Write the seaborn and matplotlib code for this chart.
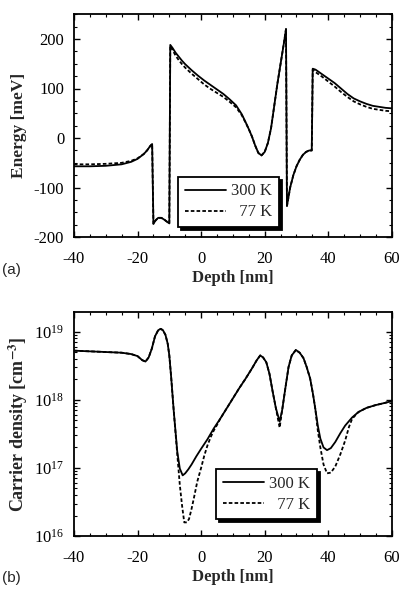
import numpy as np
import pandas as pd
import seaborn as sns
import matplotlib.pyplot as plt
from matplotlib.ticker import MultipleLocator, LogLocator, NullFormatter

# (a) band energy
x_e300 = [-40, -35, -30, -25, -22, -20, -18, -17, -16, -15.4, -15.0, -14.3, -13.5, -12.5, -11.5,
          -10.5, -10.0, -9.7, -9, -8, -7, -6, -5, -3, -1, 1, 3, 5, 7, 9, 11, 12.8, 14, 15, 16,
          17, 18, 19, 20, 21, 22, 23, 24, 25, 26, 26.7, 27.0, 28, 29, 30, 31, 32, 33, 34, 34.8,
          35.1, 36, 38, 40, 42, 44, 46, 48, 50, 52, 54, 56, 58, 60]
e300 = [-57, -57, -56, -53, -48, -42, -32, -25, -16, -12, -173, -166, -161, -161, -165,
        -170, -172, 188, 182, 172, 164, 156, 149, 137, 126, 116, 107, 98, 89, 78, 66, 48, 32, 18, 3,
        -15, -30, -35, -28, -10, 20, 65, 110, 150, 190, 220, -137, -100, -75, -57, -44, -34, -28, -25, -25,
        140, 138, 129, 120, 111, 100, 89, 80, 74, 69, 65, 63, 61, 60]
x_e77 = x_e300
e77 = [-53, -53, -52, -50, -46, -41, -32, -25, -16, -12, -173, -166, -161, -161, -165,
       -170, -172, 186, 178, 166, 157, 149, 142, 130, 119, 108, 99, 91, 83, 73, 62, 46, 31, 18, 3,
       -15, -30, -35, -28, -10, 20, 65, 110, 150, 190, 220, -137, -100, -75, -57, -44, -34, -28, -25, -25,
       138, 133, 124, 114, 104, 93, 83, 74, 68, 63, 59, 57, 55, 54]

# (b) carrier density, log10 of cm^-3
x_n300 = [-40, -35, -30, -25, -22, -20, -18.5, -17.5, -16.5, -15.5, -14.5, -13.5, -12.7, -12, -11.2,
          -10.5, -10, -9.4, -8.6, -7.5, -6.7, -5.8, -5, -4, -3, -1.5, 0, 2, 4, 6, 8, 10, 12, 14, 16,
          17.5, 18.6, 19.5, 20.5, 21.5, 22.5, 23.5, 24.7, 25.5, 26.5, 27.5, 28.5, 29.8, 31, 32.2,
          33.2, 34.3, 35.2, 35.9, 36.7, 37.5, 38.5, 39.6, 40.8, 42.2, 43.8, 45.3, 47.5, 49.5, 52,
          54.8, 57.5, 60]
n300_log = [18.72, 18.71, 18.70, 18.69, 18.67, 18.64, 18.58, 18.56, 18.62, 18.75, 18.93, 19.02, 19.04, 19.02, 18.95,
            18.82, 18.65, 18.32, 17.83, 17.24, 16.99, 16.89, 16.92, 16.98, 17.05, 17.17, 17.28, 17.42, 17.58, 17.72, 17.87, 18.02, 18.17, 18.31, 18.46,
            18.58, 18.65, 18.62, 18.55, 18.38, 18.12, 17.88, 17.68, 17.85, 18.17, 18.48, 18.65, 18.73, 18.69, 18.61,
            18.48, 18.31, 18.08, 17.87, 17.62, 17.43, 17.30, 17.26, 17.29, 17.38, 17.51, 17.62, 17.74, 17.82, 17.88,
            17.92, 17.95, 17.98]
x_n77 = [-40, -35, -30, -25, -22, -20, -18.5, -17.5, -16.5, -15.5, -14.5, -13.5, -12.7, -12, -11.2,
         -10.5, -10, -9.4, -8.6, -7.5, -6.7, -6, -5.3, -4.5, -3.8, -3, -2.3, -1.2, 0, 1, 2, 3, 4, 5, 6,
         8, 10, 12, 14, 16, 17.5, 18.6, 19.5, 20.5, 21.5, 22.5, 23.5, 24.7, 25.5, 26.5, 27.5, 28.5,
         29.8, 31, 32.2, 33.2, 34.3, 35.2, 35.9, 36.7, 37.5, 38.5, 39.6, 40.8, 42.2, 43.8, 45.3,
         46.5, 47.5, 49.5, 52, 54.8, 57.5, 60]
n77_log = [18.72, 18.71, 18.70, 18.69, 18.67, 18.64, 18.58, 18.56, 18.62, 18.75, 18.93, 19.02, 19.04, 19.02, 18.95,
           18.82, 18.65, 18.32, 17.83, 17.2, 16.75, 16.45, 16.2, 16.2, 16.25, 16.4, 16.55, 16.8, 17.0, 17.18, 17.33, 17.45, 17.55, 17.63, 17.72,
           17.87, 18.02, 18.17, 18.31, 18.46, 18.58, 18.65, 18.62, 18.55, 18.38, 18.12, 17.88, 17.59, 17.85, 18.17, 18.48, 18.65,
           18.73, 18.69, 18.61, 18.48, 18.31, 18.08, 17.87, 17.55, 17.3, 17.05, 16.92, 16.93, 17.02, 17.2, 17.4,
           17.6, 17.72, 17.82, 17.88, 17.92, 17.95, 17.98]

labels = ["300 K", "  77 K"]

sns.set_style("ticks")
plt.rcParams["font.family"] = ["Liberation Serif", "DejaVu Serif"]
plt.rcParams["mathtext.fontset"] = "stix"
plt.rcParams["axes.unicode_minus"] = False
plt.rcParams["axes.linewidth"] = 1.3
for ax_ in ("x", "y"):
    plt.rcParams[f"{ax_}tick.direction"] = "in"
    plt.rcParams[f"{ax_}tick.major.size"] = 4
    plt.rcParams[f"{ax_}tick.minor.size"] = 2.2
    plt.rcParams[f"{ax_}tick.major.width"] = 1.0
    plt.rcParams[f"{ax_}tick.minor.width"] = 0.8
    plt.rcParams[f"{ax_}tick.color"] = "black"

fig = plt.figure(figsize=(4.04, 5.90), dpi=100)
ax1 = fig.add_axes([0.183, 0.598, 0.787, 0.378])
ax2 = fig.add_axes([0.183, 0.0915, 0.787, 0.380])

dash = (0, (2.0, 1.2))

df_e300 = pd.DataFrame({"x": x_e300, "y": e300})
df_e77 = pd.DataFrame({"x": x_e77, "y": e77})
sns.lineplot(data=df_e77, x="x", y="y", ax=ax1, color="black", lw=1.3, linestyle=dash,
             estimator=None, sort=False, label=labels[1])
sns.lineplot(data=df_e300, x="x", y="y", ax=ax1, color="black", lw=1.3,
             estimator=None, sort=False, label=labels[0])

df_n300 = pd.DataFrame({"x": x_n300, "y": 10 ** np.array(n300_log)})
df_n77 = pd.DataFrame({"x": x_n77, "y": 10 ** np.array(n77_log)})
sns.lineplot(data=df_n77, x="x", y="y", ax=ax2, color="black", lw=1.3, linestyle=dash,
             estimator=None, sort=False, label=labels[1])
sns.lineplot(data=df_n300, x="x", y="y", ax=ax2, color="black", lw=1.3,
             estimator=None, sort=False, label=labels[0])

ax1.set_xlim(-40, 60)
ax1.set_ylim(-200, 250)
ax1.set_yticks([-200, -100, 0, 100, 200])
ax1.yaxis.set_minor_locator(MultipleLocator(25))
ax1.set_ylabel("Energy [meV]", fontsize=12.5, fontweight="bold", labelpad=5)

ax2.set_yscale("log")
ax2.set_xlim(-40, 60)
ax2.set_ylim(1e16, 1.95e19)
ax2.yaxis.set_major_locator(LogLocator(base=10, numticks=10))
ax2.yaxis.set_minor_locator(LogLocator(base=10, subs=np.arange(2, 10), numticks=20))
ax2.yaxis.set_minor_formatter(NullFormatter())
ax2.set_ylabel(r"Carrier density [cm$^{\mathbf{-3}}$]", fontsize=13, fontweight="bold", labelpad=3)

for ax in (ax1, ax2):
    ax.set_xticks([-40, -20, 0, 20, 40, 60])
    ax.xaxis.set_minor_locator(MultipleLocator(5))
    ax.tick_params(which="both", top=True, right=True, labelsize=12)
    ax.tick_params(axis="x", pad=10)
    ax.tick_params(axis="y", pad=7)
    ax.set_xlabel("Depth [nm]", fontsize=12, fontweight="bold", labelpad=2)
    for s in ax.spines.values():
        s.set_visible(True)
        s.set_color("black")

def styled_legend(ax, anchor):
    h, l = ax.get_legend_handles_labels()
    order = [l.index(labels[0]), l.index(labels[1])]
    leg = ax.legend([h[i] for i in order], [l[i] for i in order], loc="lower left",
                    bbox_to_anchor=anchor, borderaxespad=0, fontsize=12, handlelength=2.5,
                    handletextpad=0.3, labelspacing=0.3, borderpad=0.4, fancybox=False,
                    edgecolor="black", framealpha=1,
                    shadow={"color": "black", "alpha": 1})
    leg.get_frame().set_linewidth(1.3)
    return leg

styled_legend(ax1, (0.327, 0.045))
styled_legend(ax2, (0.447, 0.075))

fig.text(0.005, 1 - 270 / 590, "(a)", family="Liberation Sans", fontsize=11, va="center")
fig.text(0.005, 1 - 578 / 590, "(b)", family="Liberation Sans", fontsize=11, va="center")

fig.savefig("out.png", dpi=100)
